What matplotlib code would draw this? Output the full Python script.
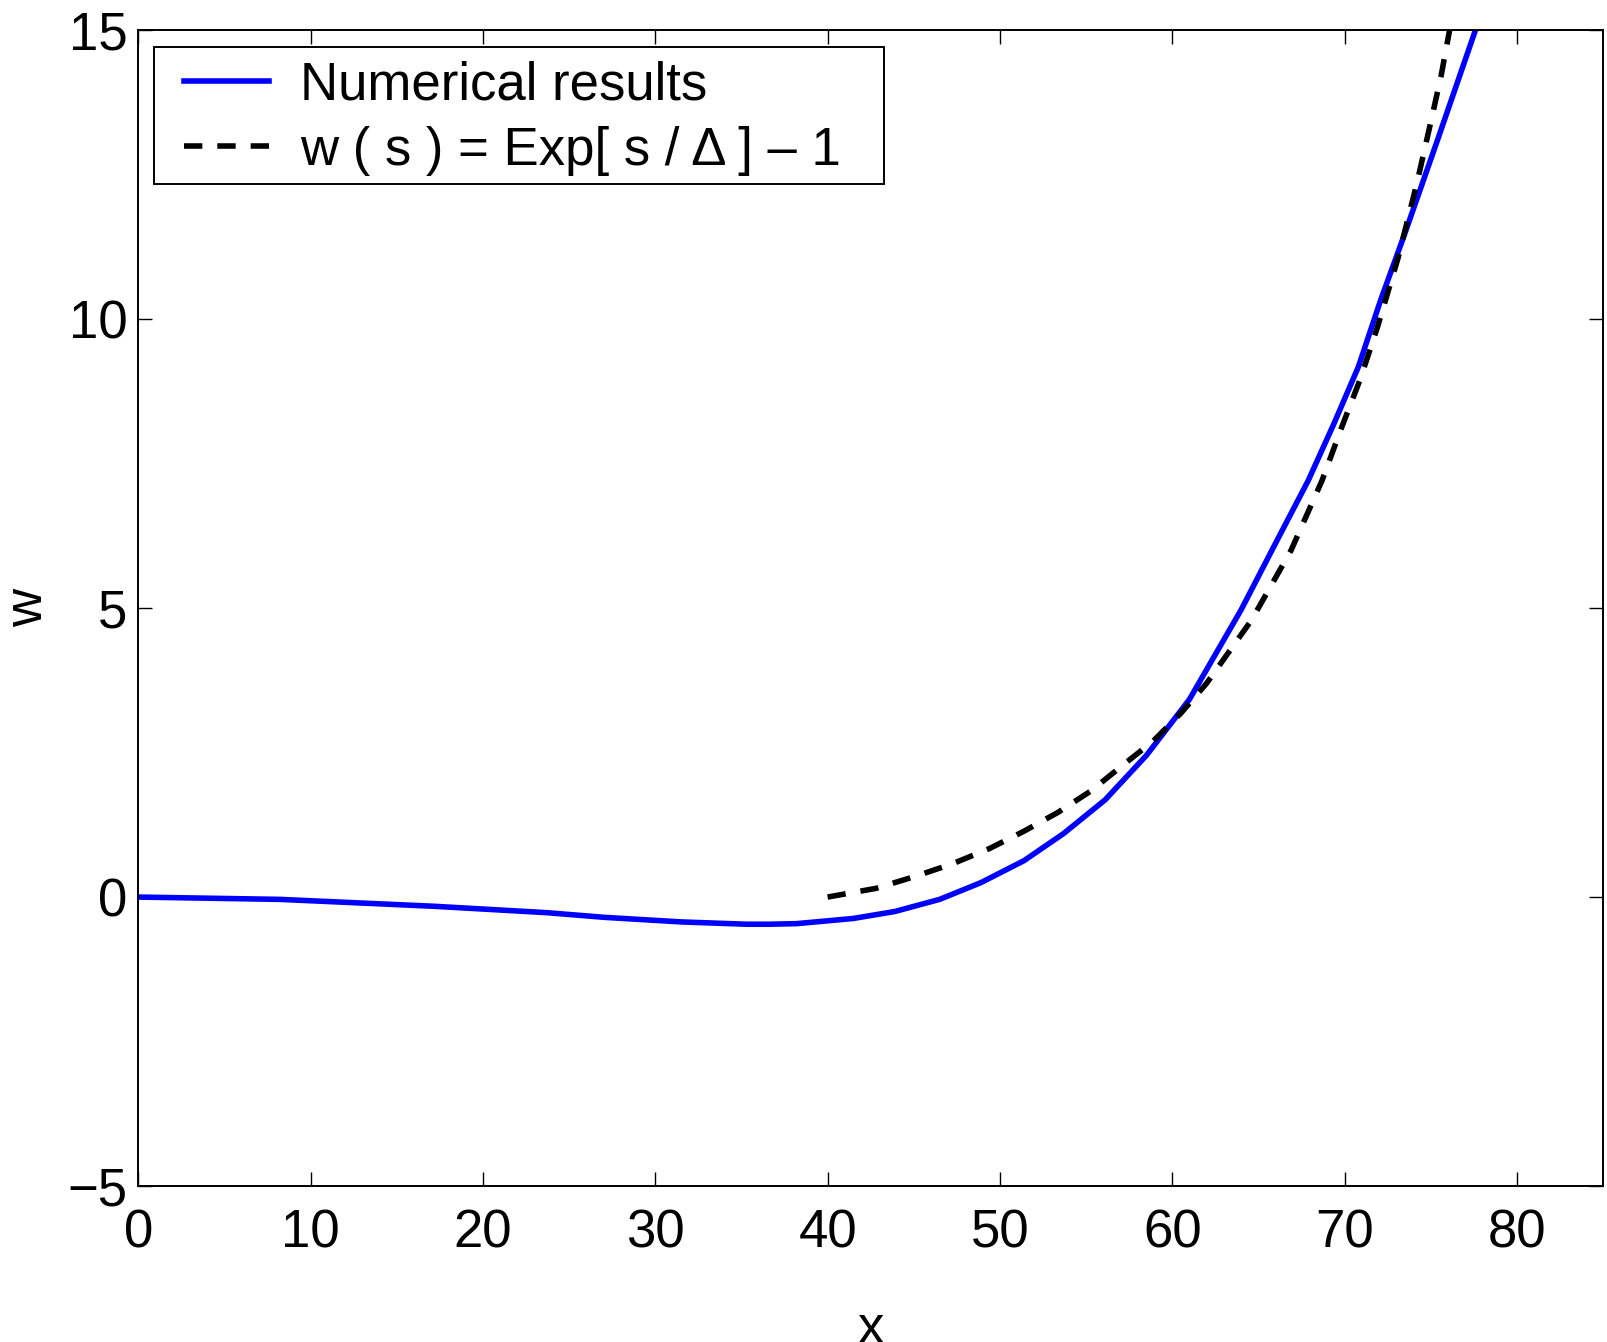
import matplotlib
matplotlib.use('Agg')
import matplotlib.pyplot as plt
from matplotlib.patches import Rectangle

plt.rcParams['font.family'] = ['Liberation Sans', 'DejaVu Sans']

# numerical solution w(x)
x_num = [0.0, 8.2, 17.2, 23.7, 27.0, 31.5, 35.3, 36.6, 38.2, 41.5, 43.9, 46.5,
         48.9, 51.4, 53.7, 56.1, 58.5, 61.0, 64.0, 66.1, 67.9, 69.4, 70.8,
         72.1, 73.5, 75.4, 77.6]
w_num = [0.0, -0.04, -0.16, -0.27, -0.35, -0.43, -0.47, -0.47, -0.46, -0.37,
         -0.25, -0.04, 0.25, 0.63, 1.10, 1.68, 2.45, 3.42, 4.97, 6.18, 7.21,
         8.20, 9.17, 10.33, 11.48, 13.1, 15.0]

# exponential approximation
x_exp = [40.0, 42.8, 45.0, 47.2, 49.4, 51.4, 53.4, 55.3, 57.0, 58.9, 60.5,
         62.0, 64.6, 66.9, 68.7, 69.8, 70.9, 71.9, 73.1, 74.2, 75.0, 75.6, 76.1]
w_exp = [0.0, 0.15, 0.35, 0.57, 0.84, 1.14, 1.47, 1.84, 2.25, 2.70, 3.18,
         3.70, 4.79, 6.00, 7.21, 8.10, 8.95, 9.85, 11.05, 12.35, 13.4, 14.2, 15.0]

xticks = [0, 10, 20, 30, 40, 50, 60, 70, 80]
yticks = [-5, 0, 5, 10, 15]

fs = 38

fig = plt.figure(figsize=(16.07, 13.42), dpi=100)
ax = fig.add_axes([0.0861, 0.1162, 0.9114, 0.8614])

ax.plot(x_num, w_num, color='#0000ff', lw=4.0, label='Numerical results')
ax.plot(x_exp, w_exp, color='black', lw=4.0, dashes=(3.3, 2.7),
        label='w ( s ) = Exp[ s / \u0394 ] \u2013 1')

ax.set_xlim(0, 85)
ax.set_ylim(-5, 15)
ax.set_xticks(xticks)
ax.set_yticks(yticks)
ax.tick_params(direction='in', length=10.4, width=1.0, labelsize=fs,
               top=True, right=True)
ax.tick_params(axis='x', pad=16)
ax.tick_params(axis='y', pad=8)
for sp in ax.spines.values():
    sp.set_linewidth(1.4)

ax.set_xlabel('x', fontsize=fs, labelpad=33)
ax.set_ylabel('w', fontsize=fs, labelpad=10)

# legend box drawn separately so the padding can be set freely
ax.add_patch(Rectangle((0.0106, 0.8668), 0.4985, 0.1188, transform=ax.transAxes,
                       facecolor='white', edgecolor='black', lw=1.4, zorder=4))
leg = ax.legend(loc='upper left', bbox_to_anchor=(0.0315, 0.9740),
                borderaxespad=0, borderpad=0, fontsize=fs, frameon=False,
                handlelength=1.61, handletextpad=0.58, labelspacing=0.30)
leg.set_zorder(5)

fig.savefig('out.png', dpi=100)
